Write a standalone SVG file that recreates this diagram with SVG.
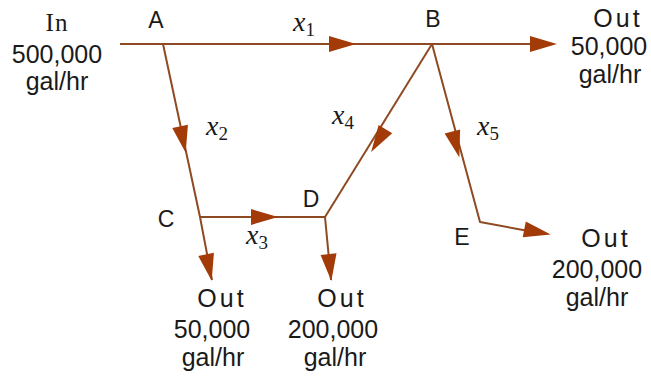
<svg xmlns="http://www.w3.org/2000/svg" width="651" height="377" viewBox="0 0 651 377">
<style>
.ln{stroke:#8e4a22;stroke-width:2;fill:none;stroke-linejoin:round}
.ah{fill:#a23b08}
.t{font-family:"Liberation Sans",Arial,sans-serif;font-size:25px;fill:#1a1a1a;text-anchor:middle}
.out{letter-spacing:3px}
.in{font-family:"Liberation Serif","Times New Roman",serif;font-size:25px;fill:#1a1a1a;text-anchor:middle;letter-spacing:1px}
.nd{font-family:"Liberation Sans",Arial,sans-serif;font-size:23px;fill:#1a1a1a;text-anchor:middle}
.v{font-family:"Liberation Serif","Times New Roman",serif;font-style:italic;font-size:28px;fill:#1a1a1a}
.s{font-family:"Liberation Serif","Times New Roman",serif;font-size:19px;fill:#1a1a1a}
</style>
<defs>
<path id="arr" d="M-14,-8 L13,0 L-14,8 Z"/>
</defs>
<rect width="651" height="377" fill="#ffffff"/>
<g id="connectors">
<path class="ln" d="M120,44 L545,44"/>
<path class="ln" d="M163,44 L200,217 L212,280"/>
<path class="ln" d="M200,217 L276,217"/>
<path class="ln" d="M270,217 L325,217 L331,280"/>
<path class="ln" d="M325,217 L432,44"/>
<path class="ln" d="M432,44 L480,222 L545,234"/>
<use href="#arr" class="ah" transform="translate(343,44)"/>
<use href="#arr" class="ah" transform="translate(544,44)"/>
<use href="#arr" class="ah" transform="translate(183,140) rotate(78)"/>
<use href="#arr" class="ah" transform="translate(209,268) rotate(78)"/>
<use href="#arr" class="ah" transform="translate(265,217)"/>
<use href="#arr" class="ah" transform="translate(330,268) rotate(84)"/>
<use href="#arr" class="ah" transform="translate(378,141) rotate(122)"/>
<use href="#arr" class="ah" transform="translate(456,145) rotate(75)"/>
<use href="#arr" class="ah" transform="translate(538,232) rotate(11)"/>
</g>
<g id="in">
<text class="in" x="57" y="31">In</text>
<text class="t" x="57" y="63">500,000</text>
<text class="t" x="57" y="90">gal/hr</text>
</g>
<g id="nodeA"><text class="nd" x="156" y="28">A</text></g>
<g id="nodeB"><text class="nd" x="433" y="27">B</text></g>
<g id="nodeC"><text class="nd" x="166" y="227">C</text></g>
<g id="nodeD"><text class="nd" x="311" y="207">D</text></g>
<g id="nodeE"><text class="nd" x="462" y="245">E</text></g>
<g id="outB">
<text class="t out" x="618" y="27">Out</text>
<text class="t" x="609" y="55">50,000</text>
<text class="t" x="610" y="83">gal/hr</text>
</g>
<g id="outC">
<text class="t out" x="222" y="307">Out</text>
<text class="t" x="212" y="338">50,000</text>
<text class="t" x="213" y="366">gal/hr</text>
</g>
<g id="outD">
<text class="t out" x="342" y="307">Out</text>
<text class="t" x="333" y="338">200,000</text>
<text class="t" x="335" y="366">gal/hr</text>
</g>
<g id="outE">
<text class="t out" x="606" y="247">Out</text>
<text class="t" x="597" y="278">200,000</text>
<text class="t" x="597" y="306">gal/hr</text>
</g>
<g id="labels">
<text x="293" y="31"><tspan class="v">x</tspan><tspan class="s" dy="5">1</tspan></text>
<text x="206" y="135"><tspan class="v">x</tspan><tspan class="s" dy="5">2</tspan></text>
<text x="246" y="244"><tspan class="v">x</tspan><tspan class="s" dy="5">3</tspan></text>
<text x="332" y="124"><tspan class="v">x</tspan><tspan class="s" dy="5">4</tspan></text>
<text x="477" y="135"><tspan class="v">x</tspan><tspan class="s" dy="5">5</tspan></text>
</g>
</svg>
